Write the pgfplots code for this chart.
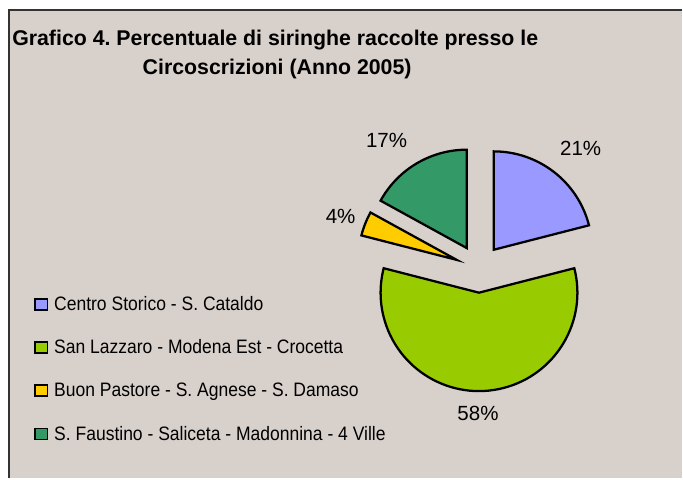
\documentclass[border=0pt]{standalone}
\usepackage{pgfplots}
\pgfplotsset{compat=1.18}
\usepackage{pgfplotstable}
\usepackage{fontspec}
\setmainfont{Liberation Sans}
\newfontfamily\legfont[FakeStretch=0.9]{Liberation Sans}
\definecolor{bg}{HTML}{D8D0CB}
\definecolor{c0}{HTML}{9999FF}
\definecolor{c1}{HTML}{99CC00}
\definecolor{c2}{HTML}{FFCC00}
\definecolor{c3}{HTML}{339966}
% share (%), label centre x, label centre y (pixels from top)
\pgfplotstableread{
value lx ly
21 581.3 148.8
58 478.5 413.8
4 341.0 217.0
17 387.0 140.8
}\piedata
\begin{document}
\frenchspacing
\begin{tikzpicture}
\def\cum{0}
\pgfplotsinvokeforeach{0,1,2,3}{%
  \pgfplotstablegetelem{#1}{value}\of\piedata
  \edef\thisval{\pgfplotsretval}%
  \pgfmathsetmacro\aS{90-3.6*\cum}%
  \pgfmathsetmacro\newcum{\cum+\thisval}%
  \pgfmathsetmacro\aE{90-3.6*\newcum}%
  \pgfmathsetmacro\aM{(\aS+\aE)/2}%
  \pgfmathsetmacro\vx{479.5+24*cos(\aM)}%
  \pgfmathsetmacro\vy{210+24*sin(\aM)}%
  \expandafter\xdef\csname wS#1\endcsname{\aS}%
  \expandafter\xdef\csname wE#1\endcsname{\aE}%
  \expandafter\xdef\csname wX#1\endcsname{\vx}%
  \expandafter\xdef\csname wY#1\endcsname{\vy}%
  \expandafter\xdef\csname wV#1\endcsname{\thisval}%
  \pgfplotstablegetelem{#1}{lx}\of\piedata
  \expandafter\xdef\csname lX#1\endcsname{\pgfplotsretval}%
  \pgfplotstablegetelem{#1}{ly}\of\piedata
  \pgfmathsetmacro\tmpy{479-\pgfplotsretval}%
  \expandafter\xdef\csname lY#1\endcsname{\tmpy}%
  \xdef\cum{\newcum}%
}
\begin{axis}[
  scale only axis, width=512.25pt, height=359.25pt,
  xmin=0, xmax=683, ymin=0, ymax=479,
  hide axis, clip=false,
]
\fill[white] (axis cs:0,0) rectangle (axis cs:683,479);
\fill[bg] (axis cs:9,0) rectangle (axis cs:683,469);
\draw[line width=1.1pt, black!80] (axis cs:9,0) -- (axis cs:9,469) -- (axis cs:683,469);
% title
\node[anchor=base, font=\bfseries\fontsize{16}{18}\selectfont, inner sep=0pt]
  at (axis cs:275.5,433.5) {Grafico 4. Percentuale di siringhe raccolte presso le};
\node[anchor=base, font=\bfseries\fontsize{16}{18}\selectfont, inner sep=0pt]
  at (axis cs:277.4,404) {Circoscrizioni (Anno 2005)};
% pie wedges
\pgfplotsinvokeforeach{0,1,2,3}{
  \filldraw[fill=c#1, draw=black, line width=1.7pt, line join=miter]
    (axis cs:\csname wX#1\endcsname,\csname wY#1\endcsname)
    -- ++(\csname wS#1\endcsname:73.875pt)
    arc[start angle=\csname wS#1\endcsname, end angle=\csname wE#1\endcsname, radius=73.875pt]
    -- cycle;
  \node[font=\fontsize{15.4}{18}\selectfont, inner sep=0pt]
    at (axis cs:\csname lX#1\endcsname,\csname lY#1\endcsname) {\csname wV#1\endcsname\%};
}
% legend
\pgfplotsinvokeforeach{0,1,2,3}{
  \filldraw[fill=c#1, draw=black, line width=1.4pt]
    (axis cs:35,{479-299-43.3*#1}) rectangle (axis cs:47.5,{479-310-43.3*#1});
}
\node[anchor=base west, inner sep=0pt, font=\legfont\fontsize{14.6}{17}\selectfont]
  at (axis cs:54,{479-310.7}) {Centro Storico - S. Cataldo};
\node[anchor=base west, inner sep=0pt, font=\legfont\fontsize{14.6}{17}\selectfont]
  at (axis cs:54,{479-354}) {San Lazzaro - Modena Est - Crocetta};
\node[anchor=base west, inner sep=0pt, font=\legfont\fontsize{14.6}{17}\selectfont]
  at (axis cs:54,{479-397.3}) {Buon Pastore - S. Agnese - S. Damaso};
\node[anchor=base west, inner sep=0pt, font=\legfont\fontsize{14.6}{17}\selectfont]
  at (axis cs:54,{479-440.7}) {S. Faustino - Saliceta - Madonnina - 4 Ville};
\end{axis}
\end{tikzpicture}
\end{document}
